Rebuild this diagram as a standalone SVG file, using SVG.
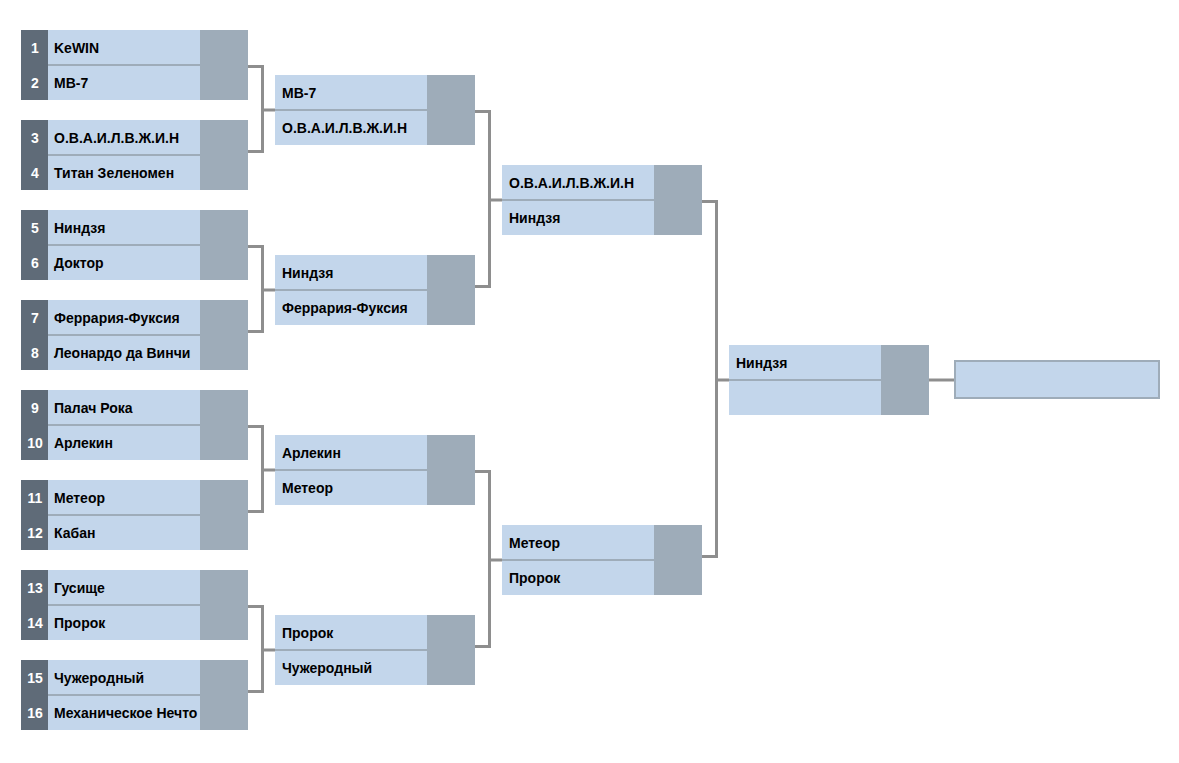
<svg xmlns="http://www.w3.org/2000/svg" width="1179" height="763" viewBox="0 0 1179 763">
<style>
.seed{fill:#5f6b78}
.nm{fill:#c3d6eb}
.sc{fill:#9eacb9}
.dv{fill:#9eacb9}
.t{font-family:"Liberation Sans",Arial,sans-serif;font-weight:bold;font-size:14px;fill:#000}
.n{font-family:"Liberation Sans",Arial,sans-serif;font-weight:bold;font-size:14px;fill:#fff;text-anchor:middle}
.c{fill:none;stroke:#8e8e8e;stroke-width:3}
</style>
<rect width="1179" height="763" fill="#fff"/>
<g id="connectors">
<path class="c" d="M248,66.5H262.5V151.5H248M262.5,110H275"/>
<path class="c" d="M248,246.5H262.5V331.5H248M262.5,290H275"/>
<path class="c" d="M248,426.5H262.5V511.5H248M262.5,470H275"/>
<path class="c" d="M248,606.5H262.5V691.5H248M262.5,650H275"/>
<path class="c" d="M475,111.5H489.5V286.5H475M489.5,200H502"/>
<path class="c" d="M475,471.5H489.5V646.5H475M489.5,560H502"/>
<path class="c" d="M702,201.5H716.5V556.5H702M716.5,380H729"/>
<path class="c" d="M929,380H955"/>
</g>
<g id="m1"><rect class="seed" x="21" y="30" width="27" height="70"/><rect class="nm" x="48" y="30" width="152" height="70"/><rect class="sc" x="200" y="30" width="48" height="70"/><rect class="dv" x="48" y="64" width="152" height="2"/><text class="n" x="35" y="53">1</text><text class="t" x="54" y="53">KeWIN</text><text class="n" x="35" y="88">2</text><text class="t" x="54" y="88">МВ-7</text></g>
<g id="m2"><rect class="seed" x="21" y="120" width="27" height="70"/><rect class="nm" x="48" y="120" width="152" height="70"/><rect class="sc" x="200" y="120" width="48" height="70"/><rect class="dv" x="48" y="154" width="152" height="2"/><text class="n" x="35" y="143">3</text><text class="t" x="54" y="143">О.В.А.И.Л.В.Ж.И.Н</text><text class="n" x="35" y="178">4</text><text class="t" x="54" y="178">Титан Зеленомен</text></g>
<g id="m3"><rect class="seed" x="21" y="210" width="27" height="70"/><rect class="nm" x="48" y="210" width="152" height="70"/><rect class="sc" x="200" y="210" width="48" height="70"/><rect class="dv" x="48" y="244" width="152" height="2"/><text class="n" x="35" y="233">5</text><text class="t" x="54" y="233">Ниндзя</text><text class="n" x="35" y="268">6</text><text class="t" x="54" y="268">Доктор</text></g>
<g id="m4"><rect class="seed" x="21" y="300" width="27" height="70"/><rect class="nm" x="48" y="300" width="152" height="70"/><rect class="sc" x="200" y="300" width="48" height="70"/><rect class="dv" x="48" y="334" width="152" height="2"/><text class="n" x="35" y="323">7</text><text class="t" x="54" y="323">Феррария-Фуксия</text><text class="n" x="35" y="358">8</text><text class="t" x="54" y="358">Леонардо да Винчи</text></g>
<g id="m5"><rect class="seed" x="21" y="390" width="27" height="70"/><rect class="nm" x="48" y="390" width="152" height="70"/><rect class="sc" x="200" y="390" width="48" height="70"/><rect class="dv" x="48" y="424" width="152" height="2"/><text class="n" x="35" y="413">9</text><text class="t" x="54" y="413">Палач Рока</text><text class="n" x="35" y="448">10</text><text class="t" x="54" y="448">Арлекин</text></g>
<g id="m6"><rect class="seed" x="21" y="480" width="27" height="70"/><rect class="nm" x="48" y="480" width="152" height="70"/><rect class="sc" x="200" y="480" width="48" height="70"/><rect class="dv" x="48" y="514" width="152" height="2"/><text class="n" x="35" y="503">11</text><text class="t" x="54" y="503">Метеор</text><text class="n" x="35" y="538">12</text><text class="t" x="54" y="538">Кабан</text></g>
<g id="m7"><rect class="seed" x="21" y="570" width="27" height="70"/><rect class="nm" x="48" y="570" width="152" height="70"/><rect class="sc" x="200" y="570" width="48" height="70"/><rect class="dv" x="48" y="604" width="152" height="2"/><text class="n" x="35" y="593">13</text><text class="t" x="54" y="593">Гусище</text><text class="n" x="35" y="628">14</text><text class="t" x="54" y="628">Пророк</text></g>
<g id="m8"><rect class="seed" x="21" y="660" width="27" height="70"/><rect class="nm" x="48" y="660" width="152" height="70"/><rect class="sc" x="200" y="660" width="48" height="70"/><rect class="dv" x="48" y="694" width="152" height="2"/><text class="n" x="35" y="683">15</text><text class="t" x="54" y="683">Чужеродный</text><text class="n" x="35" y="718">16</text><text class="t" x="54" y="718">Механическое Нечто</text></g>
<g id="r2m1"><rect class="nm" x="275" y="75" width="152" height="70"/><rect class="sc" x="427" y="75" width="48" height="70"/><rect class="dv" x="275" y="109" width="152" height="2"/><text class="t" x="282" y="98">МВ-7</text><text class="t" x="282" y="133">О.В.А.И.Л.В.Ж.И.Н</text></g>
<g id="r2m2"><rect class="nm" x="275" y="255" width="152" height="70"/><rect class="sc" x="427" y="255" width="48" height="70"/><rect class="dv" x="275" y="289" width="152" height="2"/><text class="t" x="282" y="278">Ниндзя</text><text class="t" x="282" y="313">Феррария-Фуксия</text></g>
<g id="r2m3"><rect class="nm" x="275" y="435" width="152" height="70"/><rect class="sc" x="427" y="435" width="48" height="70"/><rect class="dv" x="275" y="469" width="152" height="2"/><text class="t" x="282" y="458">Арлекин</text><text class="t" x="282" y="493">Метеор</text></g>
<g id="r2m4"><rect class="nm" x="275" y="615" width="152" height="70"/><rect class="sc" x="427" y="615" width="48" height="70"/><rect class="dv" x="275" y="649" width="152" height="2"/><text class="t" x="282" y="638">Пророк</text><text class="t" x="282" y="673">Чужеродный</text></g>
<g id="r3m1"><rect class="nm" x="502" y="165" width="152" height="70"/><rect class="sc" x="654" y="165" width="48" height="70"/><rect class="dv" x="502" y="199" width="152" height="2"/><text class="t" x="509" y="188">О.В.А.И.Л.В.Ж.И.Н</text><text class="t" x="509" y="223">Ниндзя</text></g>
<g id="r3m2"><rect class="nm" x="502" y="525" width="152" height="70"/><rect class="sc" x="654" y="525" width="48" height="70"/><rect class="dv" x="502" y="559" width="152" height="2"/><text class="t" x="509" y="548">Метеор</text><text class="t" x="509" y="583">Пророк</text></g>
<g id="r4m1"><rect class="nm" x="729" y="345" width="152" height="70"/><rect class="sc" x="881" y="345" width="48" height="70"/><rect class="dv" x="729" y="379" width="152" height="2"/><text class="t" x="736" y="368">Ниндзя</text></g>
<g id="winner"><rect x="955" y="361" width="204" height="37" fill="#c3d6eb" stroke="#9eacb9" stroke-width="2"/></g>
</svg>
